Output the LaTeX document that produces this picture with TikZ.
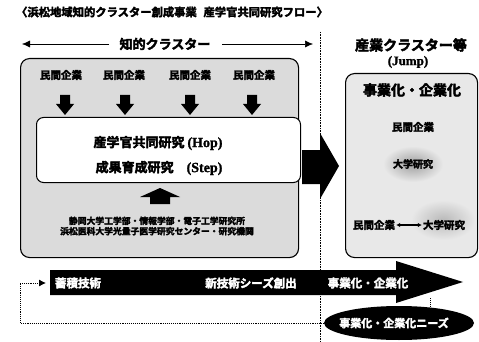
\documentclass[tikz,border=0pt]{standalone}
\usepackage{fontspec}
\setmainfont{Noto Sans CJK JP}
\newfontfamily\jpb{Noto Sans CJK JP}[FakeBold=4,BoldFont={Noto Sans CJK JP Bold},BoldFeatures={FakeBold=3}]
\newfontfamily\lat{Liberation Serif Bold}[FakeBold=1.5]
\usetikzlibrary{arrows.meta,shapes.geometric,shapes.arrows}
\tikzset{
  px/.style={x=1pt,y=-1pt},
  jtxt/.style={font=\jpb\bfseries\fontsize{#1}{#1}\selectfont,inner sep=1pt},
  jtxt/.default=9,
  graybox/.style={draw=black,line width=1.1pt,rounded corners=9pt,fill=gray!28},
  whitebox/.style={draw=black,line width=1pt,rounded corners=7pt,fill=white},
  dotline/.style={densely dotted,line width=0.9pt},
}
\begin{document}
\begin{tikzpicture}[px]
\useasboundingbox (0,0) rectangle (479,342);
\fill[white] (0,0) rectangle (479,342);
% title
\node[jtxt=11.3,anchor=west] (title) at (15,12) {〈浜松地域知的クラスター創成事業\hspace{0.6em}産学官共同研究フロー〉};
% divider
\coordinate (dtop) at (320,32);
\coordinate (dbot) at (320,342);
\draw[dotline,line width=0.6pt] (dtop) -- (dbot);
% header left
\node[jtxt=13] (chiteki) at (165,44) {知的クラスター};
\coordinate (hl) at (22,44);
\coordinate (hr) at (313,44);
\coordinate (hls) at (109,44);
\coordinate (hrs) at (222,44);
\draw[-{Latex[length=8pt,width=7pt]},line width=0.5pt] (hls) -- (hl);
\draw[-{Latex[length=8pt,width=7pt]},line width=0.5pt] (hrs) -- (hr);
% header right
\node[jtxt=14] (sangyo) at (411,45) {産業クラスター等};
\node[font=\lat\fontsize{13}{13}\selectfont,inner sep=1pt] (jump) at (408,62) {(Jump)};
% left box
\node[graybox,minimum width=278pt,minimum height=199pt,anchor=north west] (lbox) at (20,58) {};
% companies
\foreach \x/\n in {61/a,124/b,190/c,254/d}{
  \node[jtxt=10.5] (m\n) at (\x,75) {民間企業};
}
\foreach \x in {65,125,190,252}{
  \fill[black] (\x-5,95) -- (\x+5,95) -- (\x+5,104) -- (\x+9,104) -- (\x,115) -- (\x-9,104) -- (\x-5,104) -- cycle;
}
% inner white box
\node[whitebox,minimum width=264pt,minimum height=65pt,anchor=north west] (ibox) at (36,117) {};
\node[jtxt=13] (hop) at (158,143) {産学官共同研究\ {\lat\fontsize{14}{14}\selectfont (Hop)}};
\node[jtxt=13] (step) at (159,168) {成果育成研究\quad {\lat\fontsize{14}{14}\selectfont (Step)}};
% up arrow
\fill[black] (160,188) -- (180,197) -- (170,197) -- (170,204) -- (150,204) -- (150,197) -- (140,197) -- cycle;
% bottom text
\node[jtxt=8.8,align=center] (univ) at (157,226) {静岡大学工学部・情報学部・電子工学研究所\\[1.5pt]浜松医科大学光量子医学研究センター・研究機関};
% big right arrow
\fill[black] (302,150) -- (320,150) -- (320,133) -- (339,166) -- (320,199) -- (320,184) -- (302,184) -- cycle;
% right box
\node[graybox,fill=gray!18,minimum width=132pt,minimum height=184pt,anchor=north west] (rbox) at (345,73) {};
\shade[inner color=gray!75,outer color=gray!18] (413,164) ellipse (30pt and 18pt);
\shade[inner color=gray!55,outer color=gray!18] (443,220) ellipse (32pt and 20pt);
\node[jtxt=14] (jigyo) at (412,90) {事業化・企業化};
\node[jtxt=10.5] (minR) at (413,127) {民間企業};
\node[jtxt=10] (daiR) at (413,164) {大学研究};
\node[jtxt=10.5] (minL) at (374,225) {民間企業};
\node[jtxt=10.5] (daiL) at (444,225) {大学研究};
\draw[{Latex[length=4pt,width=4.5pt]}-{Latex[length=4pt,width=4.5pt]},line width=1.4pt] (minL) -- (daiL);
% bottom big arrow
\fill[black] (50,270) -- (396,270) -- (396,261) -- (463,282) -- (396,303) -- (396,295) -- (50,295) -- cycle;
\node[jtxt=11.5,text=white] (chiku) at (78,283) {蓄積技術};
\node[jtxt=11.5,text=white] (seeds) at (251,283) {新技術シーズ創出};
\node[jtxt=11.5,text=white] (jig2) at (368,283) {事業化・企業化};
% needs ellipse
\node[ellipse,fill=black,minimum width=150pt,minimum height=34pt,inner sep=0pt] (needs) at (399,323) {};
\node[jtxt=11,text=white] (needst) at (394,323) {事業化・企業化ニーズ};
% feedback dotted
\coordinate (fb1) at (20,323);
\coordinate (fb2) at (20,283);
\coordinate (fbend) at (46,283);
\draw[dotline,-{Latex[length=7pt,width=7pt]}] (needs.west) -- (fb1) -- (fb2) -- (fbend);
\coordinate (dn1) at (430,298);
\coordinate (dn2) at (430,307);
\draw[dotline] (dn1) -- (dn2);
\end{tikzpicture}
\end{document}
